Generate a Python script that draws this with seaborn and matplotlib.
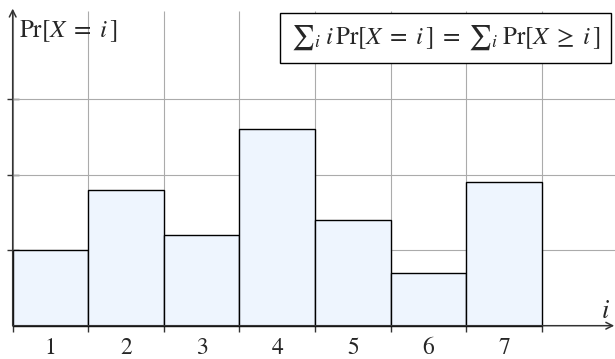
import matplotlib
matplotlib.use("Agg")
import matplotlib.pyplot as plt
import numpy as np
import pandas as pd
import seaborn as sns

# ---------------------------------------------------------------------------
# Data
# ---------------------------------------------------------------------------
outcomes = [1, 2, 3, 4, 5, 6, 7]
probabilities = [1.0, 1.8, 1.2, 2.6, 1.4, 0.7, 1.9]
ytick_vals = [1, 2, 3]
xtick_labels = ["1", "2", "3", "4", "5", "6", "7"]

BAR_FILL = "#eef5fe"
GRID = "#ababab"
AXIS = "#333333"

sns.set_theme(style="white")
plt.rcParams["font.family"] = ["STIXGeneral", "DejaVu Serif"]
plt.rcParams["mathtext.fontset"] = "stix"

fig = plt.figure(figsize=(6.15, 3.59), dpi=100)
ax = fig.add_axes([0, 0, 1, 1])
ax.set_facecolor("white")

df = pd.DataFrame({"i": outcomes, "p": probabilities})
sns.histplot(
    data=df, x="i", weights="p", discrete=True, shrink=1,
    color=BAR_FILL, edgecolor="black", linewidth=1.0, alpha=1,
    ax=ax, zorder=3,
)

# grid cells are one unit wide, bars sit between them
x0 = min(outcomes) - 0.5
x1 = max(outcomes) + 0.5
xmax = x1 + 0.967
ytop = 4.17
ax.set_xlim(x0 - 0.168, xmax)
ax.set_ylim(-0.441, 4.314)

ax.vlines(np.arange(x0, x1 + 1), 0, ytop, color=GRID, lw=0.8, zorder=1)
ax.hlines(ytick_vals, x0, xmax, color=GRID, lw=0.8, zorder=1)

# axes with arrow heads
arrow = dict(arrowstyle="->", color=AXIS, lw=1.1, shrinkA=0, shrinkB=0)
ax.annotate("", xy=(xmax - 0.01, 0), xytext=(x0, 0), arrowprops=arrow,
            annotation_clip=False, zorder=5)
ax.annotate("", xy=(x0, 4.2), xytext=(x0, 0), arrowprops=arrow,
            annotation_clip=False, zorder=5)

for side in ax.spines.values():
    side.set_visible(False)
ax.spines["bottom"].set_position(("data", 0))
ax.spines["left"].set_position(("data", x0))

ax.set_xticks(outcomes)
ax.set_xticklabels(xtick_labels, fontsize=17)
ax.set_xticks(np.arange(x0, x1 + 1), minor=True)
ax.tick_params(axis="x", which="major", length=0, pad=8.5, bottom=True)
ax.tick_params(axis="x", which="minor", direction="out", length=4,
               width=1, color=AXIS, bottom=True)
ax.set_yticks(ytick_vals)
ax.set_yticklabels([])
ax.tick_params(axis="y", direction="inout", length=8, width=1,
               color=AXIS, left=True)
ax.set_xlabel("")
ax.set_ylabel("")

fig.text(605 / 615, 1 - 312 / 359, r"$i$", ha="center", va="center", fontsize=19)
fig.text(19 / 615, 1 - 31 / 359, r"$\mathrm{Pr}[X \;=\; i\,]$",
         ha="left", va="center", fontsize=18)
fig.text(445.5 / 615, 1 - 38 / 359,
         r"${\sum}_i\; i\,\mathrm{Pr}[X \;=\; i\,] \;=\; {\sum}_i\; \mathrm{Pr}[X \;\geq\; i\,]$",
         ha="center", va="center", fontsize=18, zorder=6,
         bbox=dict(boxstyle="square,pad=0.42", fc="white", ec="black", lw=1))

fig.savefig("out.png", dpi=100)
